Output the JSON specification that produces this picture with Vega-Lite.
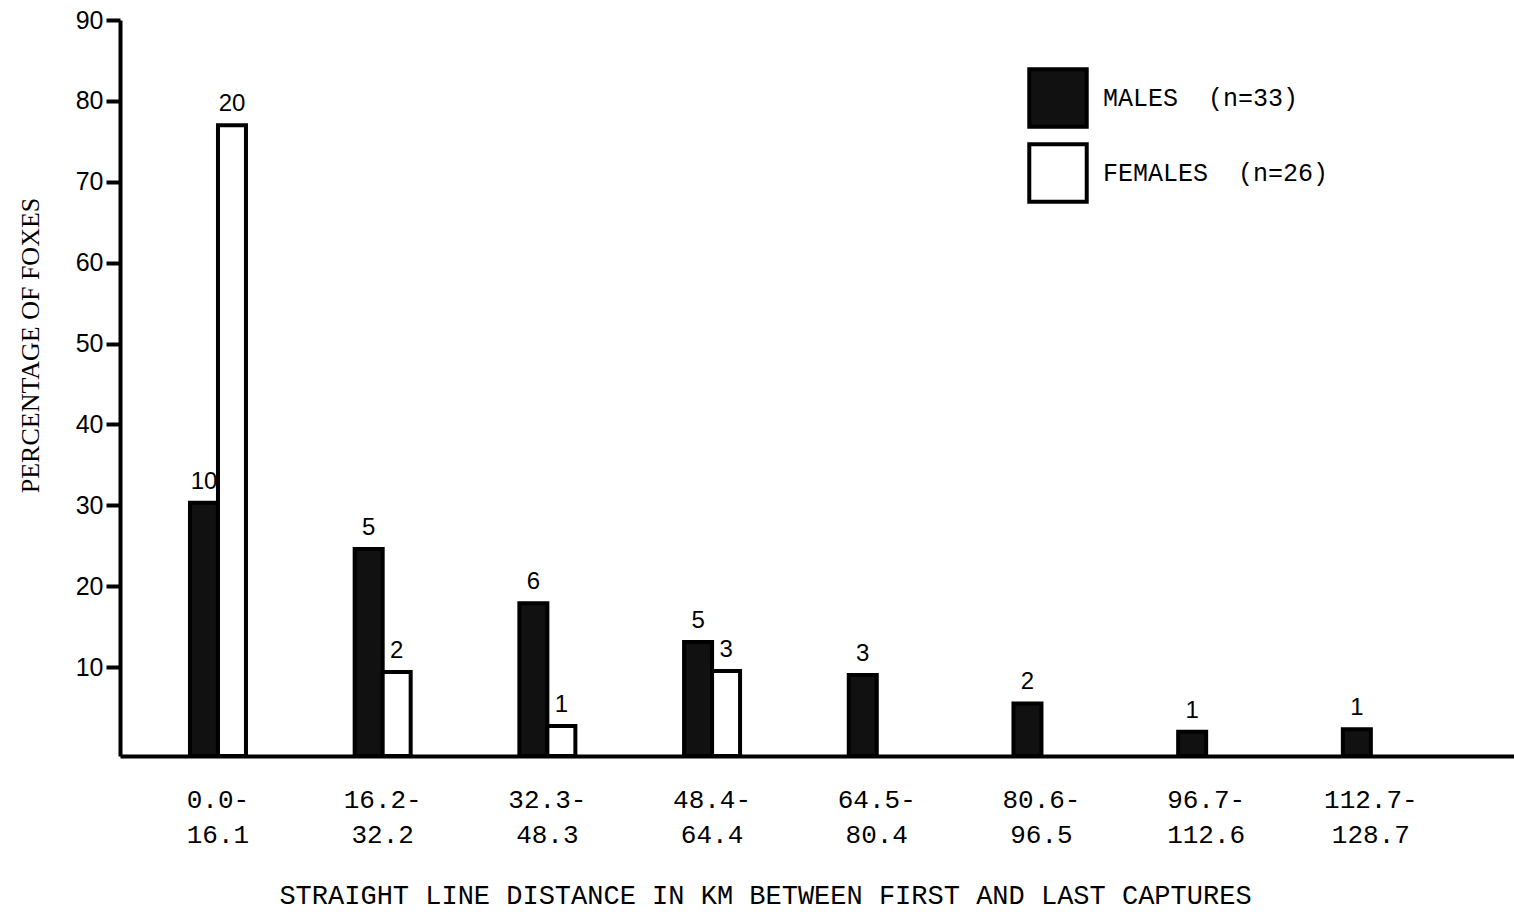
{
  "$schema": "https://vega.github.io/schema/vega-lite/v6.json",
  "width": 1394,
  "height": 736,
  "autosize": {"type": "none"},
  "padding": {"left": 120, "top": 20, "right": 0, "bottom": 156},
  "background": "white",
  "config": {"view": {"stroke": null}},
  "data": {
    "values": [
      {"bin": "0.0- 16.1", "sex": "Males", "pct": 30.3, "count": 10},
      {"bin": "16.2- 32.2", "sex": "Males", "pct": 24.6, "count": 5},
      {"bin": "32.3- 48.3", "sex": "Males", "pct": 17.9, "count": 6},
      {"bin": "48.4- 64.4", "sex": "Males", "pct": 13.1, "count": 5},
      {"bin": "64.5- 80.4", "sex": "Males", "pct": 9.0, "count": 3},
      {"bin": "80.6- 96.5", "sex": "Males", "pct": 5.5, "count": 2},
      {"bin": "96.7- 112.6", "sex": "Males", "pct": 2.0, "count": 1},
      {"bin": "112.7- 128.7", "sex": "Males", "pct": 2.3, "count": 1},
      {"bin": "0.0- 16.1", "sex": "Females", "pct": 77.0, "count": 20},
      {"bin": "16.2- 32.2", "sex": "Females", "pct": 9.4, "count": 2},
      {"bin": "32.3- 48.3", "sex": "Females", "pct": 2.7, "count": 1},
      {"bin": "48.4- 64.4", "sex": "Females", "pct": 9.5, "count": 3}
    ]
  },
  "encoding": {
    "x": {
      "field": "bin",
      "type": "nominal",
      "sort": null,
      "scale": {
        "domain": ["0.0- 16.1", "16.2- 32.2", "32.3- 48.3", "48.4- 64.4", "64.5- 80.4", "80.6- 96.5", "96.7- 112.6", "112.7- 128.7"],
        "paddingInner": 0.66,
        "paddingOuter": 0.562,
        "align": 0.378
      },
      "axis": {
        "title": "STRAIGHT LINE DISTANCE IN KM BETWEEN FIRST AND LAST CAPTURES",
        "titleFont": "Liberation Mono",
        "titleFontSize": 27,
        "titleFontWeight": "normal",
        "titleColor": "black",
        "titleX": 645,
        "titleY": 147,
        "titleBaseline": "alphabetic",
        "titleAnchor": "middle",
        "labelAngle": 0,
        "labelExpr": "split(datum.label, ' ')",
        "labelFont": "Liberation Mono",
        "labelFontSize": 26,
        "labelColor": "black",
        "labelLineHeight": 35,
        "labelBaseline": "top",
        "labelPadding": 30,
        "ticks": false,
        "tickSize": 0,
        "domainColor": "black",
        "domainWidth": 4
      }
    },
    "xOffset": {
      "field": "sex",
      "type": "nominal",
      "scale": {"domain": ["Males", "Females"], "paddingInner": 0, "paddingOuter": 0}
    },
    "y": {
      "field": "pct",
      "type": "quantitative",
      "scale": {"domain": [-1, 90], "nice": false, "zero": false},
      "axis": {
        "title": "PERCENTAGE OF FOXES",
        "titleFont": "Liberation Serif",
        "titleFontSize": 26,
        "titleFontWeight": "normal",
        "titleColor": "black",
        "titleAngle": -90,
        "titleX": -90,
        "titleY": 325,
        "titleAlign": "center",
        "titleBaseline": "middle",
        "values": [10, 20, 30, 40, 50, 60, 70, 80, 90],
        "labelFont": "Liberation Sans",
        "labelFontSize": 25,
        "labelColor": "black",
        "labelPadding": 3,
        "tickSize": 14,
        "tickWidth": 4,
        "tickColor": "black",
        "domainColor": "black",
        "domainWidth": 4,
        "grid": false
      }
    }
  },
  "layer": [
    {
      "mark": {"type": "bar", "stroke": "black", "strokeWidth": 4},
      "encoding": {
        "y2": {"datum": -1},
        "fill": {
          "field": "sex",
          "type": "nominal",
          "scale": {"domain": ["Males", "Females"], "range": ["#111111", "#ffffff"]},
          "legend": {
            "title": null,
            "orient": "none",
            "legendX": 907,
            "legendY": 47,
            "symbolType": "square",
            "symbolSize": 3300,
            "symbolStrokeColor": "black",
            "symbolStrokeWidth": 4,
            "symbolOpacity": 1,
            "labelFont": "Liberation Mono",
            "labelFontSize": 25,
            "labelColor": "black",
            "labelOffset": 14,
            "rowPadding": 1,
            "labelLimit": 400,
            "labelExpr": "datum.label == 'Males' ? 'MALES\u00a0\u00a0(n=33)' : 'FEMALES\u00a0\u00a0(n=26)'"
          }
        }
      }
    },
    {
      "mark": {"type": "text", "font": "Liberation Sans", "fontSize": 24, "color": "black", "baseline": "alphabetic", "dy": -14},
      "encoding": {
        "text": {"field": "count", "type": "quantitative"}
      }
    }
  ]
}
